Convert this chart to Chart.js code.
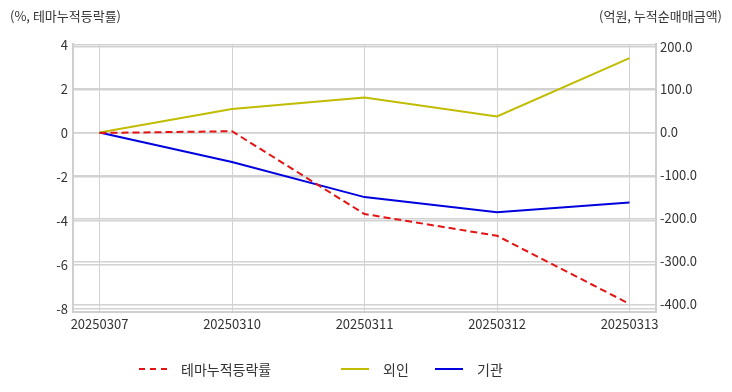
<!DOCTYPE html>
<html>
<head>
<meta charset="utf-8">
<script src="https://cdn.jsdelivr.net/npm/chart.js@4"></script>
<style>
  body { margin:0; background:#fff; font-family:"Noto Sans CJK KR", sans-serif; }
  #wrap { position:relative; width:732px; height:392px; }
  .ttl { position:absolute; top:6px; font-size:13px; color:#333; }
  #legend { position:absolute; top:359px; left:0; width:732px; height:20px; font-size:14px; color:#333; }
  .item { position:absolute; top:0; display:flex; align-items:center; height:20px; }
  .sw { width:28px; height:0; margin-right:14px; }
</style>
</head>
<body>
<div id="wrap">
  <canvas id="chart" width="732" height="392"></canvas>
  <div class="ttl" style="left:10px">(%, 테마누적등락률)</div>
  <div class="ttl" style="right:10px">(억원, 누적순매매금액)</div>
  <div id="legend"></div>
</div>
<script>
// data
let dates = ['20250307', '20250310', '20250311', '20250312', '20250313']
let themeRate = [0, 0.08, -3.69, -4.68, -7.78]   // %, left axis
let foreign = [0, 54.5, 81.4, 37.2, 173.0]        // 억원, right axis
let institution = [0, -68.8, -150.5, -186.0, -163.0]
let leftTicks = [-8, -6, -4, -2, 0, 2, 4]
let rightTicks = [-400, -300, -200, -100, 0, 100, 200]

let names = ['테마누적등락률', '외인', '기관']
let colors = ['rgb(228,20,20)', 'rgb(192,188,0)', 'rgb(0,0,222)']

function pts(arr){
    return arr.map(function(v, i){ return {x: i, y: v} })
}

let ctx = document.getElementById('chart').getContext('2d')
let gridColor = '#d2d2d2'
let tickFont = {family: '"Noto Sans CJK KR", sans-serif', size: 13}

let myChart = new Chart(ctx, {
    type: 'line',
    data: {
        datasets: [{
            label: names[0],
            data: pts(themeRate),
            yAxisID: 'y',
            borderColor: colors[0],
            borderDash: [7, 4],
            borderWidth: 2,
            pointRadius: 0,
            tension: 0,
        }, {
            label: names[1],
            data: pts(foreign),
            yAxisID: 'y1',
            borderColor: colors[1],
            borderWidth: 2,
            pointRadius: 0,
            tension: 0,
        }, {
            label: names[2],
            data: pts(institution),
            yAxisID: 'y1',
            borderColor: colors[2],
            borderWidth: 2,
            pointRadius: 0,
            tension: 0,
        }]
    },
    options: {
        responsive: false,
        animation: false,
        layout: {padding: {top: 44, left: 0, right: 0, bottom: 0}},
        plugins: {legend: {display: false}, tooltip: {enabled: false}},
        scales: {
            x: {
                type: 'linear',
                min: -0.2,
                max: 4.2,
                afterBuildTicks: function(axis){
                    axis.ticks = dates.map(function(d, i){ return {value: i} })
                },
                afterFit: function(axis){ axis.height = 80 },
                ticks: {
                    autoSkip: false,
                    maxRotation: 0,
                    padding: 4,
                    color: '#333',
                    font: tickFont,
                    callback: function(v){ return dates[v] }
                },
                grid: {color: gridColor, drawTicks: false},
                border: {color: '#cfcfcf', width: 2}
            },
            y: {
                position: 'left',
                min: -8.15,
                max: 4.05,
                ticks: {padding: 5, color: '#333', font: tickFont},
                afterBuildTicks: function(axis){
                    axis.ticks = leftTicks.map(function(v){ return {value: v} })
                },
                afterFit: function(axis){ axis.width = 73 },
                grid: {color: gridColor, drawTicks: false, lineWidth: 1.5},
                border: {color: '#cfcfcf', width: 2}
            },
            y1: {
                position: 'right',
                min: -418,
                max: 206,
                ticks: {
                    padding: 4, color: '#333', font: tickFont,
                    callback: function(v){ return v.toFixed(1) }
                },
                afterBuildTicks: function(axis){
                    axis.ticks = rightTicks.map(function(v){ return {value: v} })
                },
                afterFit: function(axis){ axis.width = 76 },
                grid: {color: gridColor, drawTicks: false, lineWidth: 1.5},
                border: {color: '#cfcfcf', width: 2}
            }
        }
    }
});

// legend
let legendLeft = [139, 341, 435]
let legend = document.getElementById('legend')
for (var i = 0; i < names.length; i++){
    let item = document.createElement('div')
    item.className = 'item'
    item.style.left = legendLeft[i] + 'px'
    let sw = document.createElement('span')
    sw.className = 'sw'
    sw.style.borderTop = '2px ' + (i === 0 ? 'dashed ' : 'solid ') + colors[i]
    let txt = document.createElement('span')
    txt.textContent = names[i]
    item.appendChild(sw)
    item.appendChild(txt)
    legend.appendChild(item)
}
</script>
</body>
</html>
